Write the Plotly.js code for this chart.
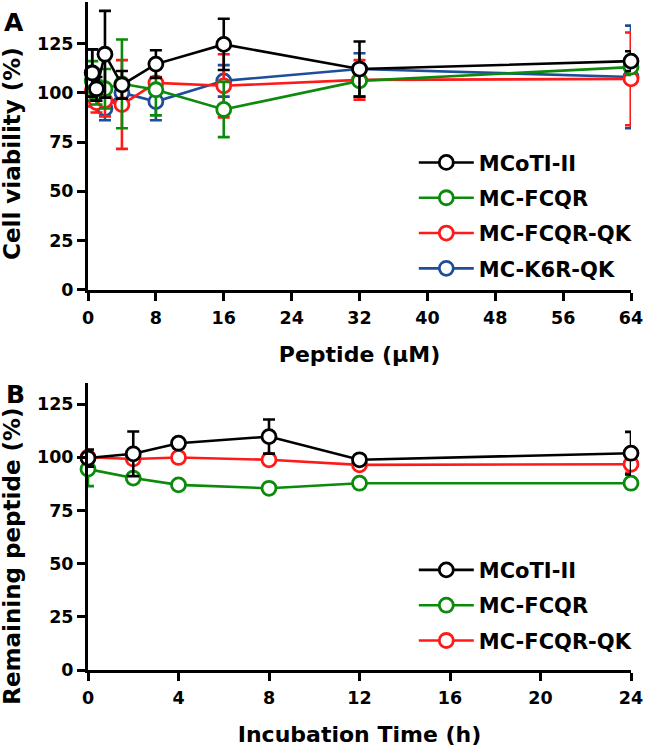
<!DOCTYPE html>
<html>
<head>
<meta charset="utf-8">
<script src="https://cdn.plot.ly/plotly-3.0.1.min.js"></script>
<style>html,body{margin:0;padding:0;background:#fff;}#chart{width:646px;height:751px;}</style>
</head>
<body>
<div id="chart"></div>
<script>
// ---- Panel A: cell viability vs peptide concentration ----
const concentration = [0.5, 1, 2, 4, 8, 16, 32, 64];
const viabMCoTI = [110, 102, 119.5, 104, 114.5, 124.5, 112, 116];
const viabMCoTIErr = [12, 6, 22, 7, 7, 13, 14, 5];
const viabFCQR = [106, 100, 102, 104.5, 101.5, 91.5, 106, 113];
const viabFCQRErr = [10, 6, 10, 22.5, 13, 14, 8, 4];
const viabFCQRQK = [101, 95, 96, 94, 105, 103.5, 106.5, 107];
const viabFCQRQKErr = [8, 5, 8, 22.5, 3, 16, 10, 23.5];
const viabK6RQK = [110, 100, 92, 100, 95.5, 106, 112, 108];
const viabK6RQKErr = [12, 6, 6, 6, 9.5, 8, 8, 26];

// ---- Panel B: remaining peptide vs incubation time ----
const incubTime = [0, 2, 4, 8, 12, 24];
const remMCoTI = [99.6, 101.6, 106.6, 109.7, 98.8, 101.9];
const remMCoTIErr = [4, 10.5, 2, 8, 1, 10];
const remFCQR = [94.4, 90.2, 87, 85.4, 87.8, 87.8];
const remFCQRErr = [8, 2, 1, 1, 2, 1];
const remFCQRQK = [100, 99.2, 99.9, 98.8, 96.4, 96.7];
const remFCQRQKErr = [2, 2, 1, 2, 1, 4];

const xTicksA = [0, 8, 16, 24, 32, 40, 48, 56, 64];
const xTicksB = [0, 4, 8, 12, 16, 20, 24];
const yTicks = [0, 25, 50, 75, 100, 125];

const names = ['MCoTI-II', 'MC-FCQR', 'MC-FCQR-QK', 'MC-K6R-QK'];
const colors = ['#000000', '#0b8a0b', '#ff1a1a', '#1f4e99'];

const FONT = 'DejaVu Sans, Verdana, sans-serif';

function series(x, y, e, idx, xa, ya, legend, rank) {
  return {
    type: 'scatter', mode: 'lines+markers', x: x, y: y,
    name: names[idx], xaxis: xa, yaxis: ya, legend: legend,
    legendgroup: legend + names[idx], legendrank: rank,
    cliponaxis: false,
    line: {color: colors[idx], width: 2.6},
    marker: {symbol: 'circle', size: 14, color: '#ffffff', line: {color: colors[idx], width: 2.8}},
    error_y: {type: 'data', array: e, visible: true, color: colors[idx], thickness: 2.6, width: 6}
  };
}

const data = [
  series(concentration, viabK6RQK, viabK6RQKErr, 3, 'x', 'y', 'legend', 4),
  series(concentration, viabFCQRQK, viabFCQRQKErr, 2, 'x', 'y', 'legend', 3),
  series(concentration, viabFCQR, viabFCQRErr, 1, 'x', 'y', 'legend', 2),
  series(concentration, viabMCoTI, viabMCoTIErr, 0, 'x', 'y', 'legend', 1),
  series(incubTime, remFCQRQK, remFCQRQKErr, 2, 'x2', 'y2', 'legend2', 3),
  series(incubTime, remFCQR, remFCQRErr, 1, 'x2', 'y2', 'legend2', 2),
  series(incubTime, remMCoTI, remMCoTIErr, 0, 'x2', 'y2', 'legend2', 1)
];

const tickFont = {family: FONT, size: 17.5, weight: 'bold', color: '#000'};
const xTitleFont = {family: FONT, size: 22, weight: 'bold', color: '#000'};
const yTitleFont = {family: FONT, size: 23, weight: 'bold', color: '#000'};

function xAxis(range, ticks, title, anchor) {
  return {
    range: range, tickvals: ticks, ticktext: ticks.map(String), anchor: anchor,
    showgrid: false, zeroline: false, showline: true, linecolor: '#000', linewidth: 3,
    ticks: 'outside', ticklen: 8, tickwidth: 3, tickcolor: '#000', ticklabelstandoff: 2,
    tickfont: tickFont, title: {text: title, font: xTitleFont, standoff: 20}
  };
}
function yAxis(range, domain, anchor) {
  return {
    range: range, domain: domain, tickvals: yTicks, ticktext: yTicks.map(String), anchor: anchor,
    showgrid: false, zeroline: false, showline: true, linecolor: '#000', linewidth: 3,
    ticks: 'outside', ticklen: 8, tickwidth: 3, tickcolor: '#000',
    tickfont: tickFont
  };
}

const legendBase = {
  font: {family: FONT, size: 21, weight: 'bold', color: '#000'},
  bgcolor: 'rgba(0,0,0,0)', traceorder: 'grouped', tracegroupgap: 5,
  xanchor: 'left', yanchor: 'top', itemwidth: 55
};

const layout = {
  width: 646, height: 751,
  margin: {l: 88, r: 15, t: 2, b: 81},
  paper_bgcolor: '#ffffff', plot_bgcolor: '#ffffff',
  showlegend: true,
  xaxis: xAxis([0, 64], xTicksA, 'Peptide (\u03bcM)', 'y'),
  yaxis: yAxis([0, 146], [0.569, 1], 'x'),
  xaxis2: xAxis([0, 24], xTicksB, 'Incubation Time (h)', 'y2'),
  yaxis2: yAxis([0, 135], [0, 0.43], 'x2'),
  legend: Object.assign({x: 0.60, y: 0.79}, legendBase),
  legend2: Object.assign({x: 0.60, y: 0.18}, legendBase),
  annotations: [
    {text: 'A', xref: 'paper', yref: 'paper', x: -0.136, y: 0.969, xanchor: 'center', yanchor: 'middle',
     showarrow: false, font: {family: FONT, size: 25, weight: 'bold', color: '#000'}},
    {text: 'B', xref: 'paper', yref: 'paper', x: -0.134, y: 0.413, xanchor: 'center', yanchor: 'middle',
     showarrow: false, font: {family: FONT, size: 25, weight: 'bold', color: '#000'}},
    {text: 'Cell viability (%)', xref: 'paper', yref: 'paper', x: -0.14, y: 0.774, textangle: -90,
     xanchor: 'center', yanchor: 'middle', showarrow: false, font: yTitleFont},
    {text: 'Remaining peptide (%)', xref: 'paper', yref: 'paper', x: -0.14, y: 0.171, textangle: -90,
     xanchor: 'center', yanchor: 'middle', showarrow: false, font: yTitleFont}
  ]
};

Plotly.newPlot('chart', data, layout, {displayModeBar: false, staticPlot: true});
</script>
</body>
</html>
